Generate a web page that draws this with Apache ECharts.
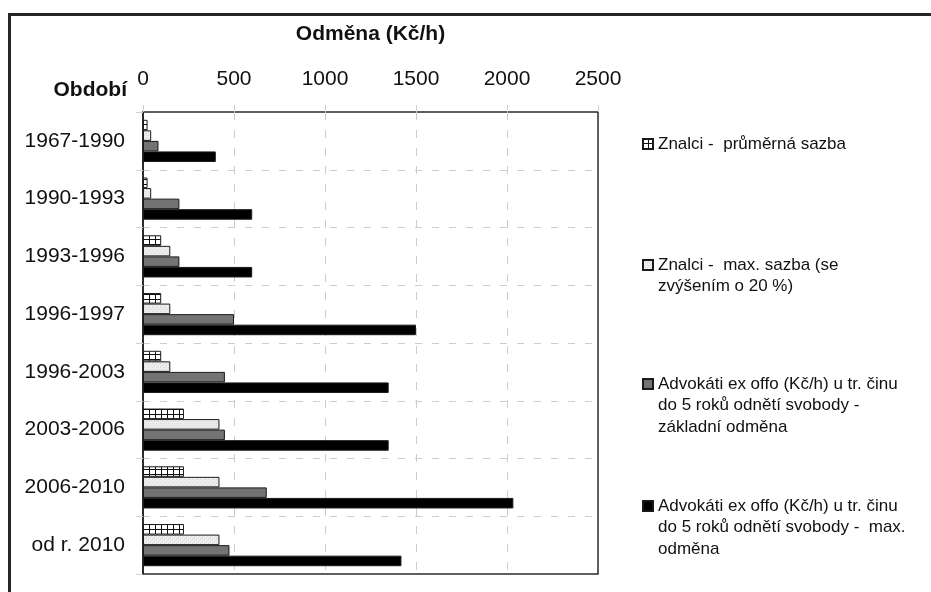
<!DOCTYPE html>
<html>
<head>
<meta charset="utf-8">
<title>Odměna (Kč/h)</title>
<script src="https://cdn.jsdelivr.net/npm/echarts@6/dist/echarts.min.js"></script>
<style>
  html, body { margin: 0; padding: 0; background: #fff; }
  #chart { width: 931px; height: 592px; }
</style>
</head>
<body>
<div id="chart"></div>
<script>
// období (osa Y, shora dolů)
var periods = ['1967-1990', '1990-1993', '1993-1996', '1996-1997', '1996-2003', '2003-2006', '2006-2010', 'od r. 2010'];

// hodnoty v Kč/h
var znalciPrumer = [25, 25, 100, 100, 100, 225, 225, 225];
var znalciMax = [45, 45, 150, 150, 150, 420, 420, 420];
var advokatiZakladni = [85, 200, 200, 500, 450, 450, 680, 475];
var advokatiMax = [400, 600, 600, 1500, 1350, 1350, 2035, 1420];

var seriesNames = [
  'Znalci -  průměrná sazba',
  'Znalci -  max. sazba (se\nzvýšením o 20 %)',
  'Advokáti ex offo (Kč/h) u tr. činu\ndo 5 roků odnětí svobody -\nzákladní odměna',
  'Advokáti ex offo (Kč/h) u tr. činu\ndo 5 roků odnětí svobody -  max.\nodměna'
];

var FONT = '"Liberation Sans", Arial, sans-serif';

// vzorek mřížky (bílé pozadí, černé čáry)
function makeGridPattern() {
  var c = document.createElement('canvas');
  c.width = 6; c.height = 5;
  var ctx = c.getContext('2d');
  ctx.fillStyle = '#ffffff';
  ctx.fillRect(0, 0, 6, 5);
  ctx.fillStyle = '#111111';
  ctx.fillRect(5, 0, 1, 5);
  ctx.fillRect(0, 4, 6, 1);
  return c;
}
// světle šedý "kropenatý" vzorek
function makeSpecklePattern() {
  var c = document.createElement('canvas');
  c.width = 4; c.height = 4;
  var ctx = c.getContext('2d');
  ctx.fillStyle = '#e9e9e9';
  ctx.fillRect(0, 0, 4, 4);
  ctx.fillStyle = '#f7f7f7';
  ctx.fillRect(1, 0, 1, 1);
  ctx.fillRect(3, 2, 1, 1);
  ctx.fillStyle = '#dcdcdc';
  ctx.fillRect(0, 3, 1, 1);
  ctx.fillRect(2, 1, 1, 1);
  return c;
}

var fills = [
  { image: makeGridPattern(), repeat: 'repeat' },
  { image: makeSpecklePattern(), repeat: 'repeat' },
  '#737373',
  '#000000'
];
var values = [znalciPrumer, znalciMax, advokatiZakladni, advokatiMax];

var chart = echarts.init(document.getElementById('chart'));

// legenda: ikona u prvního řádku textu
var LH = 21.5;
var legendCenters = [144, 265, 384, 506];
var legends = seriesNames.map(function (name, i) {
  var n = name.split('\n').length;
  var lead = new Array(n).join('\n');
  return {
    orient: 'vertical',
    left: 642,
    top: legendCenters[i] - (2 * n - 1) * LH / 2,
    padding: 0,
    itemWidth: 10,
    itemHeight: 10,
    icon: 'rect',
    selectedMode: false,
    data: [name],
    formatter: function (s) { return lead + s; },
    textStyle: {
      fontFamily: FONT,
      fontSize: 17,
      color: '#111',
      lineHeight: LH
    }
  };
});

chart.setOption({
  animation: false,
  backgroundColor: '#fff',
  legend: legends,
  graphic: [
    {
      type: 'rect',
      silent: true,
      shape: { x: 9.5, y: 14.5, width: 1000, height: 700 },
      style: { fill: 'none', stroke: '#262626', lineWidth: 3 }
    }
  ],
  grid: {
    left: 143,
    right: 333,
    top: 112,
    bottom: 18,
    show: true,
    borderColor: '#2b2b2b',
    borderWidth: 1.5
  },
  xAxis: {
    type: 'value',
    position: 'top',
    min: 0,
    max: 2500,
    interval: 500,
    name: 'Odměna (Kč/h)',
    nameLocation: 'middle',
    nameGap: 78,
    nameTextStyle: {
      fontFamily: FONT,
      fontSize: 21,
      fontWeight: 'bold',
      color: '#111',
      verticalAlign: 'middle'
    },
    axisLine: { show: false },
    axisTick: { show: true, length: 7, lineStyle: { color: '#d0d0d0' } },
    axisLabel: {
      fontFamily: FONT,
      fontSize: 21,
      color: '#111',
      margin: 22,
      formatter: function (v) { return String(v); }
    },
    splitLine: {
      show: true,
      showMinLine: false,
      showMaxLine: false,
      lineStyle: { color: '#cccccc', type: [8, 10], width: 1 }
    }
  },
  yAxis: {
    type: 'category',
    inverse: true,
    data: periods,
    name: 'Období',
    nameLocation: 'start',
    nameGap: 22,
    nameTextStyle: {
      fontFamily: FONT,
      fontSize: 21,
      fontWeight: 'bold',
      color: '#111',
      align: 'right',
      verticalAlign: 'middle',
      padding: [0, 16, 0, 0]
    },
    axisLine: { show: true, lineStyle: { color: '#1a1a1a', width: 1.5 } },
    axisTick: { show: true, length: 7, lineStyle: { color: '#d0d0d0' } },
    axisLabel: { fontFamily: FONT, fontSize: 21, color: '#111', margin: 18, padding: [6, 0, 0, 0] },
    splitLine: {
      show: true,
      interval: 0,
      showMinLine: false,
      showMaxLine: false,
      lineStyle: { color: '#cccccc', type: [7, 10], width: 1 }
    }
  },
  series: seriesNames.map(function (name, i) {
    return {
      name: name,
      type: 'bar',
      data: values[i],
      barGap: '0%',
      barCategoryGap: '27%',
      itemStyle: { color: fills[i], borderColor: '#1a1a1a', borderWidth: 1 }
    };
  })
});
</script>
</body>
</html>
